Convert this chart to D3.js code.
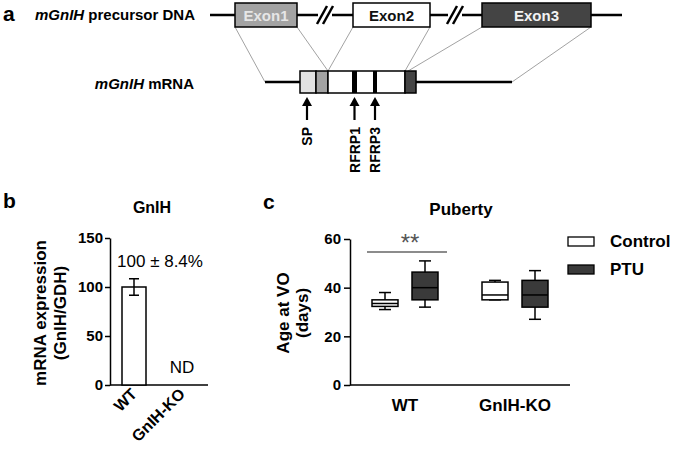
<!DOCTYPE html>
<html><head><meta charset="utf-8">
<script src="https://cdn.jsdelivr.net/npm/d3@7"></script>
<style>
html,body{margin:0;padding:0;background:#fff;}
text{font-family:"Liberation Sans",Arial,sans-serif;}
</style></head>
<body>
<script>
// ---------- Panel a data (diagram units) ----------
const exonNames = ["Exon1", "Exon2", "Exon3"];
const exonStart = [25, 143, 272];
const exonEnd = [87, 220, 381];
const exonFill = ["#a3a3a3", "#ffffff", "#444444"];
const exonText = ["#e6e6e6", "#111111", "#f2f2f2"];
const dnaBreaks = [115, 245];
const mrnaSegNames = ["SP", "Exon1", "Exon2", "Exon3"];
const mrnaSegStart = [90, 106, 118, 195];
const mrnaSegEnd = [106, 118, 195, 206];
const mrnaSegFill = ["#e2e2e2", "#a3a3a3", "#ffffff", "#444444"];
const mrnaLine = [55, 302];
const featureNames = ["SP", "RFRP1", "RFRP3"];
const featurePos = [97, 144.5, 165];
const peptideBars = [[142, 147], [163, 167]];
// projection: exon edges -> mRNA positions
const projFrom = [25, 87, 143, 220, 272, 381];
const projTo = [55, 118, 118, 195, 198, 302];

// ---------- Panel b data ----------
const bCategories = ["WT", "GnIH-KO"];
const bValues = [100, 0];
const bErrors = [8.4, 0];
const bTicks = [0, 50, 100, 150];

// ---------- Panel c data ----------
const cGroups = ["WT", "GnIH-KO"];
const cSeries = ["Control", "PTU"];
const cMin = [[31, 32], [35, 27]];
const cQ1 = [[32.3, 35], [35, 32]];
const cMedian = [[33.5, 40], [37, 37]];
const cQ3 = [[35, 46.4], [42.3, 43]];
const cMax = [[38, 51], [43, 47]];
const cTicks = [0, 20, 40, 60];

const svg = d3.select("body").append("svg").attr("width", 675).attr("height", 450);
const font = "Liberation Sans, Arial, sans-serif";

// ================= Panel a =================
const ga = svg.append("g");
ga.append("text").attr("x", 3).attr("y", 21).attr("font-size", 21).attr("font-weight", "bold").text("a");
const t1 = ga.append("text").attr("x", 195).attr("y", 20).attr("text-anchor", "end").attr("font-size", 15).attr("font-weight", "bold");
t1.append("tspan").attr("font-style", "italic").text("mGnIH");
t1.append("tspan").text(" precursor DNA");
const t2 = ga.append("text").attr("x", 194).attr("y", 89).attr("text-anchor", "end").attr("font-size", 15).attr("font-weight", "bold");
t2.append("tspan").attr("font-style", "italic").text("mGnIH");
t2.append("tspan").text(" mRNA");

const dx = d3.scaleLinear().domain([0, 412]).range([210, 622]);
const dnaY = 15, exTop = 3, exBot = 27;
const mY = 82, mTop = 71, mBot = 93;

// projection lines
ga.selectAll(".proj").data(projFrom).join("line")
  .attr("x1", d => dx(d)).attr("y1", exBot)
  .attr("x2", (d, i) => dx(projTo[i])).attr("y2", (d, i) => (i === 0 || i === 5) ? mY : mTop)
  .attr("stroke", "#8a8a8a").attr("stroke-width", 0.8);

ga.append("line").attr("x1", dx(0)).attr("x2", dx(412)).attr("y1", dnaY).attr("y2", dnaY)
  .attr("stroke", "#000").attr("stroke-width", 2.5);
// break marks
dnaBreaks.forEach(b => {
  ga.append("rect").attr("x", dx(b) - 7).attr("y", dnaY - 4).attr("width", 14).attr("height", 8).attr("fill", "#fff");
  [-3, 3].forEach(o => ga.append("line")
    .attr("x1", dx(b) + o - 5).attr("y1", dnaY + 9).attr("x2", dx(b) + o + 5).attr("y2", dnaY - 9)
    .attr("stroke", "#000").attr("stroke-width", 2.5));
});
ga.selectAll(".exon").data(exonNames).join("rect")
  .attr("x", (d, i) => dx(exonStart[i])).attr("y", exTop)
  .attr("width", (d, i) => dx(exonEnd[i]) - dx(exonStart[i])).attr("height", exBot - exTop)
  .attr("fill", (d, i) => exonFill[i]).attr("stroke", "#000").attr("stroke-width", 1.5);
ga.selectAll(".exonlab").data(exonNames).join("text")
  .attr("x", (d, i) => (dx(exonStart[i]) + dx(exonEnd[i])) / 2).attr("y", 21)
  .attr("text-anchor", "middle").attr("font-size", 15).attr("font-weight", "bold")
  .attr("fill", (d, i) => exonText[i]).text(d => d);

// mRNA
ga.append("line").attr("x1", dx(mrnaLine[0])).attr("x2", dx(mrnaLine[1])).attr("y1", mY).attr("y2", mY)
  .attr("stroke", "#000").attr("stroke-width", 2.5);
ga.selectAll(".seg").data(mrnaSegNames).join("rect")
  .attr("x", (d, i) => dx(mrnaSegStart[i])).attr("y", mTop)
  .attr("width", (d, i) => dx(mrnaSegEnd[i]) - dx(mrnaSegStart[i])).attr("height", mBot - mTop)
  .attr("fill", (d, i) => mrnaSegFill[i]).attr("stroke", "#000").attr("stroke-width", 1.5);
ga.selectAll(".pep").data(peptideBars).join("rect")
  .attr("x", d => dx(d[0])).attr("y", mTop).attr("width", d => dx(d[1]) - dx(d[0])).attr("height", mBot - mTop)
  .attr("fill", "#000");
// arrows
featureNames.forEach((f, i) => {
  const x = dx(featurePos[i]);
  ga.append("line").attr("x1", x).attr("x2", x).attr("y1", 120).attr("y2", 104).attr("stroke", "#000").attr("stroke-width", 2.2);
  ga.append("path").attr("d", `M${x - 5},${106}L${x},${97}L${x + 5},${106}Z`).attr("fill", "#000");
  ga.append("text").attr("transform", `translate(${x + 5},127) rotate(-90)`).attr("text-anchor", "end")
    .attr("font-size", 14).attr("font-weight", "bold").text(f);
});

// ================= Panel b =================
const gb = svg.append("g");
gb.append("text").attr("x", 3).attr("y", 208).attr("font-size", 21).attr("font-weight", "bold").text("b");
gb.append("text").attr("x", 152).attr("y", 213).attr("text-anchor", "middle").attr("font-size", 16).attr("font-weight", "bold").text("GnIH");
const by = d3.scaleLinear().domain([0, 150]).range([385, 238]);
const bx = d3.scaleBand().domain(bCategories).range([110, 206]).paddingInner(0.5).paddingOuter(0.25);
const bAxis = gb.append("g").attr("transform", "translate(110,0)")
  .call(d3.axisLeft(by).tickValues(bTicks).tickSize(5).tickSizeOuter(0));
bAxis.select(".domain").attr("stroke-width", 1.5);
bAxis.selectAll(".tick line").attr("stroke-width", 1.5);
bAxis.selectAll("text").attr("font-size", 15).attr("font-weight", "bold").attr("font-family", font).attr("x", -7);
gb.append("line").attr("x1", 110).attr("x2", 208).attr("y1", by(0)).attr("y2", by(0)).attr("stroke", "#000").attr("stroke-width", 1.5);
gb.selectAll(".bar").data(bCategories).join("rect")
  .attr("x", d => bx(d)).attr("width", bx.bandwidth())
  .attr("y", (d, i) => by(bValues[i])).attr("height", (d, i) => by(0) - by(bValues[i]))
  .attr("fill", "#fff").attr("stroke", "#000").attr("stroke-width", (d, i) => bValues[i] > 0 ? 1.5 : 2.2);
bCategories.forEach((c, i) => {
  if (bErrors[i] > 0) {
    const cx = bx(c) + bx.bandwidth() / 2;
    gb.append("line").attr("x1", cx).attr("x2", cx).attr("y1", by(bValues[i] + bErrors[i])).attr("y2", by(bValues[i] - bErrors[i])).attr("stroke", "#000").attr("stroke-width", 1.5);
    [1, -1].forEach(s => gb.append("line").attr("x1", cx - 5).attr("x2", cx + 5)
      .attr("y1", by(bValues[i] + s * bErrors[i])).attr("y2", by(bValues[i] + s * bErrors[i])).attr("stroke", "#000").attr("stroke-width", 1.5));
  }
});
gb.append("text").attr("x", 160).attr("y", 267).attr("text-anchor", "middle").attr("font-size", 17).text("100 \u00b1 8.4%");
gb.append("text").attr("x", bx("GnIH-KO") + bx.bandwidth() / 2).attr("y", 373).attr("text-anchor", "middle").attr("font-size", 17).text("ND");
bCategories.forEach(c => {
  const cx = bx(c) + bx.bandwidth() / 2;
  gb.append("text").attr("transform", `translate(${cx + 4},${395}) rotate(-45)`).attr("text-anchor", "end")
    .attr("font-size", 16).attr("font-weight", "bold").text(c);
});
gb.append("text").attr("transform", "translate(46,313) rotate(-90)").attr("text-anchor", "middle")
  .attr("font-size", 17).attr("font-weight", "bold").text("mRNA expression");
gb.append("text").attr("transform", "translate(66,313) rotate(-90)").attr("text-anchor", "middle")
  .attr("font-size", 17).attr("font-weight", "bold").text("(GnIH/GDH)");

// ================= Panel c =================
const gc = svg.append("g");
gc.append("text").attr("x", 263).attr("y", 209).attr("font-size", 21).attr("font-weight", "bold").text("c");
gc.append("text").attr("x", 461).attr("y", 215).attr("text-anchor", "middle").attr("font-size", 17).attr("font-weight", "bold").text("Puberty");
const cy = d3.scaleLinear().domain([0, 60]).range([385, 239]);
const cx0 = d3.scaleBand().domain(cGroups).range([350, 570]);
const cx1 = d3.scaleBand().domain(cSeries).range([0, cx0.bandwidth()]).paddingInner(0.35).paddingOuter(0.55);
const cAxis = gc.append("g").attr("transform", "translate(350,0)")
  .call(d3.axisLeft(cy).tickValues(cTicks).tickSize(6).tickSizeOuter(0));
cAxis.select(".domain").attr("stroke-width", 1.5);
cAxis.selectAll(".tick line").attr("stroke-width", 1.5);
cAxis.selectAll("text").attr("font-size", 15).attr("font-weight", "bold").attr("font-family", font).attr("x", -9);
gc.append("line").attr("x1", 350).attr("x2", 570).attr("y1", cy(0)).attr("y2", cy(0)).attr("stroke", "#000").attr("stroke-width", 1.5);
cGroups.forEach((g, gi) => {
  gc.append("text").attr("x", cx0(g) + cx0.bandwidth() / 2).attr("y", 411).attr("text-anchor", "middle")
    .attr("font-size", 17).attr("font-weight", "bold").text(g);
  cSeries.forEach((s, si) => {
    const x = cx0(g) + cx1(s), w = cx1.bandwidth(), mid = x + w / 2;
    const fill = si === 0 ? "#fff" : "#3a3a3a";
    gc.append("line").attr("x1", mid).attr("x2", mid).attr("y1", cy(cMax[gi][si])).attr("y2", cy(cMin[gi][si])).attr("stroke", "#000").attr("stroke-width", 1.5);
    [cMax[gi][si], cMin[gi][si]].forEach(v => gc.append("line").attr("x1", mid - 6).attr("x2", mid + 6)
      .attr("y1", cy(v)).attr("y2", cy(v)).attr("stroke", "#000").attr("stroke-width", 1.5));
    gc.append("rect").attr("x", x).attr("width", w).attr("y", cy(cQ3[gi][si])).attr("height", cy(cQ1[gi][si]) - cy(cQ3[gi][si]))
      .attr("fill", fill).attr("stroke", "#000").attr("stroke-width", 1.5);
    gc.append("line").attr("x1", x).attr("x2", x + w).attr("y1", cy(cMedian[gi][si])).attr("y2", cy(cMedian[gi][si])).attr("stroke", "#000").attr("stroke-width", 1.5);
  });
});
// significance
gc.append("line").attr("x1", 367).attr("x2", 447).attr("y1", 252).attr("y2", 252).attr("stroke", "#666").attr("stroke-width", 1.3);
gc.append("text").attr("x", 410).attr("y", 251).attr("text-anchor", "middle").attr("font-size", 24).attr("fill", "#555").text("**");
gc.append("text").attr("transform", "translate(289,313) rotate(-90)").attr("text-anchor", "middle")
  .attr("font-size", 17).attr("font-weight", "bold").text("Age at VO");
gc.append("text").attr("transform", "translate(308,313) rotate(-90)").attr("text-anchor", "middle")
  .attr("font-size", 17).attr("font-weight", "bold").text("(days)");
// legend
cSeries.forEach((s, si) => {
  const yy = 237 + si * 28;
  gc.append("rect").attr("x", 568).attr("y", yy).attr("width", 26).attr("height", 9)
    .attr("fill", si === 0 ? "#fff" : "#3a3a3a").attr("stroke", "#000").attr("stroke-width", 1.3);
  gc.append("text").attr("x", 610).attr("y", yy + 10).attr("font-size", 17).attr("font-weight", "bold").text(s);
});
</script>
</body></html>
